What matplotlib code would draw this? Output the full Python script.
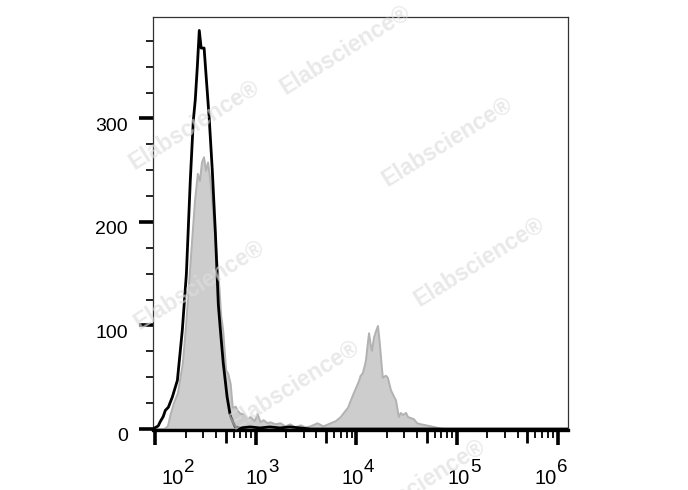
import numpy as np
import matplotlib
matplotlib.use("Agg")
import matplotlib.pyplot as plt
import matplotlib.transforms as mtransforms
from matplotlib.ticker import FixedLocator, NullFormatter

plt.rcParams['font.family'] = ['Liberation Sans', 'DejaVu Sans']

# control (black outline)
ctrl_x = [95, 107, 112, 120, 126, 135, 148, 166, 186, 204, 223, 239, 250, 262,
          274, 286, 306, 321, 344, 369, 396, 424, 444, 474, 518, 559, 625, 700,
          880, 1100, 1380, 1740, 2180, 2760, 3500, 1.27e6]
ctrl_y = [0, 3, 7, 12, 18, 21, 31, 47, 96, 150, 240, 298, 318, 350,
          385, 368, 368, 340, 300, 250, 190, 120, 96, 64, 31, 12, 2, 1,
          2, 1, 2, 1, 2, 1, 0, 0]

# stained sample (grey filled)
stain_x = [95, 120, 132, 141, 151, 166, 186, 200, 214, 229, 245, 262, 275, 288,
           302, 316, 331, 347, 372, 398, 427, 447, 468, 501, 525, 556, 583, 625,
           654, 700, 750, 818, 877, 960, 1030, 1100, 1180, 1300, 1380, 1550,
           1740, 1950, 2180, 2450, 2760, 3100, 3460, 4060, 4640, 5490, 6160,
           6900, 7560, 8160, 8700, 9300, 10000, 10500, 10900, 11400, 12000,
           12300, 12900, 13200, 13800, 14100, 14800, 15500, 16200, 16900,
           17700, 18100, 19400, 20300, 21800, 23300, 24500, 26100, 27300,
           28700, 30800, 32200, 34500, 36800, 39800, 43500, 48800, 54700,
           60900, 68000, 79500, 1.27e6]
stain_y = [0, 0, 3, 15, 25, 35, 64, 100, 140, 180, 220, 247, 240, 258,
           263, 250, 258, 243, 210, 176, 140, 110, 96, 57, 54, 44, 21, 22,
           18, 15, 15, 10, 12, 8, 15, 7, 9, 6, 7, 5,
           6, 3, 5, 2, 4, 2, 3, 6, 3, 6, 8,
           12, 17, 21, 28, 35, 42, 47, 52, 54, 62,
           67, 85, 93, 80, 76, 89, 95, 100, 83,
           60, 50, 52, 50, 38, 32, 28, 12, 16,
           14, 16, 12, 11, 10, 6, 5, 4, 3,
           2, 1, 0, 0]

decades = [1e2, 1e3, 1e4, 1e5, 1e6]
exponents = ['2', '3', '4', '5', '6']
y_major = [0, 100, 200, 300]

fig = plt.figure(figsize=(6.88, 4.90), dpi=100)
ax = fig.add_axes([0.2224, 0.1224, 0.6032, 0.8429])

ax.fill_between(stain_x, stain_y, 0, facecolor='#cdcdcd', edgecolor='#b2b2b2',
                linewidth=1.4, zorder=2)
ax.plot(ctrl_x, ctrl_y, color='black', linewidth=2.0, zorder=5)

ax.set_xscale('log')
ax.set_xlim(95, 1.27e6)
ax.set_ylim(-1, 398)

# x ticks
minor = [d * m for d in decades[:-1] for m in (2, 3, 4, 6, 7, 8, 9)]
ax.xaxis.set_major_locator(FixedLocator(decades))
ax.xaxis.set_minor_locator(FixedLocator(minor))
ax.xaxis.set_major_formatter(NullFormatter())
ax.xaxis.set_minor_formatter(NullFormatter())
ax.tick_params(axis='x', which='major', length=11, width=2.6, color='black')
ax.tick_params(axis='x', which='minor', length=6, width=1.3, color='black')

sec = ax.secondary_xaxis('bottom')
sec.set_xticks([d * 5 for d in decades[:-1]])
sec.xaxis.set_minor_locator(FixedLocator([]))
sec.set_xticklabels([])
sec.tick_params(axis='x', length=9, width=2.0, color='black')
sec.spines['bottom'].set_visible(False)

# x tick labels as 10 with superscript exponent
label_pos = [10 ** 2.28, 10 ** 3.12, 10 ** 4.07, 10 ** 5.13, 10 ** 5.99]
trans = mtransforms.blended_transform_factory(ax.transData, fig.transFigure)
for xp, e in zip(label_pos, exponents):
    ax.text(xp, 0.012, '10', transform=trans, ha='right', va='baseline',
            fontsize=14.5, clip_on=False)
    ax.text(xp + xp * 0.01, 0.036, e, transform=trans, ha='left', va='baseline',
            fontsize=13.5, clip_on=False)

# y ticks
ax.set_yticks(y_major)
ax.set_yticks(np.arange(25, 398, 25), minor=True)
ax.set_yticklabels([str(v) for v in y_major], fontsize=14)
ax.tick_params(axis='y', which='major', length=10, width=2.6, pad=8, color='black')
ax.tick_params(axis='y', which='minor', length=5, width=1.2, color='black')
offset = mtransforms.ScaledTranslation(0, -6 / 100, fig.dpi_scale_trans)
for lab in ax.get_yticklabels():
    lab.set_transform(lab.get_transform() + offset)

ax.spines['bottom'].set_linewidth(2.4)
ax.spines['bottom'].set_color('black')
for s in ('left', 'top', 'right'):
    ax.spines[s].set_linewidth(0.9)
    ax.spines[s].set_color('#333333')

# watermark
marks = [(345, 50), (194, 125), (447, 142), (199, 285), (479, 262), (294, 385), (420, 484)]
for px, py in marks:
    fig.text(px / 688, 1 - py / 490, 'Elabscience\u00ae', rotation=32,
             ha='center', va='center', fontsize=16.5, fontweight='bold',
             color='#dddddd', alpha=0.65, zorder=3)

fig.savefig('out.png', dpi=100)
